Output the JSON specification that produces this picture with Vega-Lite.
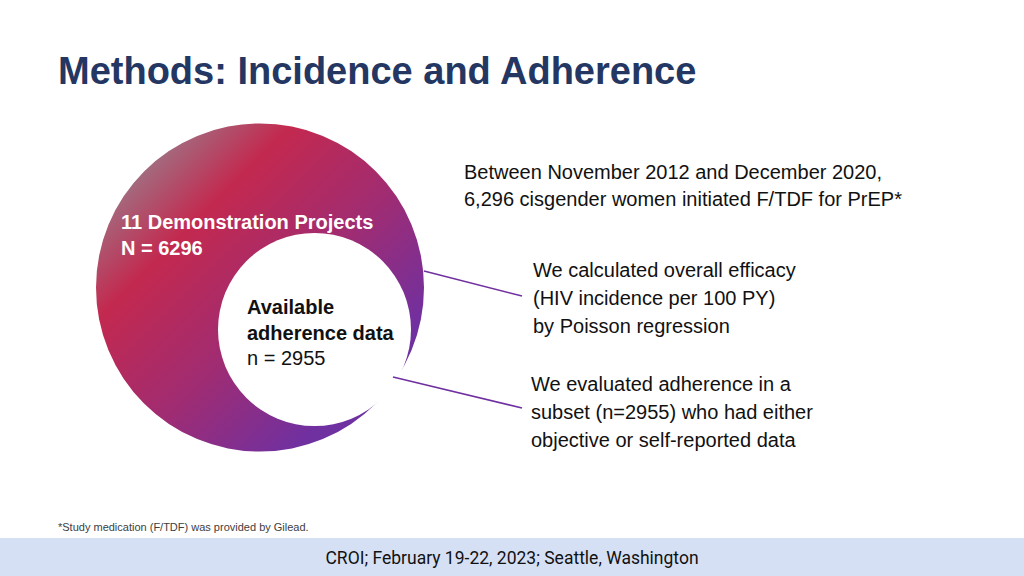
{
  "$schema": "https://vega.github.io/schema/vega-lite/v6.json",
  "width": 1024,
  "height": 576,
  "autosize": {"type": "fit", "contains": "padding"},
  "padding": 0,
  "background": "#ffffff",
  "config": {"view": {"stroke": null}},
  "datasets": {
    "band": [{"x": 0, "x2": 1024, "y": 538, "y2": 576}],
    "circles": [
      {"name": "outer", "x": 260, "y": 287.5},
      {"name": "inner", "x": 314.5, "y": 329.5}
    ],
    "links": [
      {"x": 424, "y": 271, "x2": 522, "y2": 296},
      {"x": 393, "y": 377, "x2": 522, "y2": 408}
    ],
    "texts": [
      {"kind": "title", "x": 58, "y": 84, "text": "Methods: Incidence and Adherence"},
      {"kind": "body", "x": 464, "y": 179, "text": "Between November 2012 and December 2020,"},
      {"kind": "body", "x": 464, "y": 206, "text": "6,296 cisgender women initiated F/TDF for PrEP*"},
      {"kind": "body", "x": 533, "y": 277, "text": "We calculated overall efficacy"},
      {"kind": "body", "x": 533, "y": 305, "text": "(HIV incidence per 100 PY)"},
      {"kind": "body", "x": 533, "y": 333, "text": "by Poisson regression"},
      {"kind": "body", "x": 531, "y": 391, "text": "We evaluated adherence in a"},
      {"kind": "body", "x": 531, "y": 419, "text": "subset (n=2955) who had either"},
      {"kind": "body", "x": 531, "y": 447, "text": "objective or self-reported data"},
      {"kind": "white", "x": 121, "y": 229, "text": "11 Demonstration Projects"},
      {"kind": "white", "x": 121, "y": 255, "text": "N = 6296"},
      {"kind": "bold", "x": 247, "y": 314, "text": "Available"},
      {"kind": "bold", "x": 247, "y": 340, "text": "adherence data"},
      {"kind": "body", "x": 247, "y": 365, "text": "n = 2955"},
      {"kind": "note", "x": 58, "y": 531, "text": "*Study medication (F/TDF) was provided by Gilead."},
      {"kind": "footer", "x": 512, "y": 564, "text": "CROI; February 19-22, 2023; Seattle, Washington"}
    ]
  },
  "encoding": {
    "x": {"field": "x", "type": "quantitative", "scale": {"domain": [0, 1024], "nice": false, "zero": false}, "axis": null},
    "y": {"field": "y", "type": "quantitative", "scale": {"domain": [0, 576], "nice": false, "zero": false, "reverse": true}, "axis": null}
  },
  "layer": [
    {
      "data": {"name": "band"},
      "mark": {"type": "rect", "color": "#d6e0f5"},
      "encoding": {"x2": {"field": "x2"}, "y2": {"field": "y2"}}
    },
    {
      "data": {"name": "circles"},
      "transform": [{"filter": "datum.name === 'outer'"}],
      "mark": {
        "type": "point", "shape": "circle", "filled": true, "opacity": 1, "strokeWidth": 0, "size": 107584,
        "color": {
          "gradient": "linear", "x1": 0, "y1": 0, "x2": 1, "y2": 1,
          "stops": [
            {"offset": 0.1, "color": "#9a7d8c"},
            {"offset": 0.3, "color": "#c3294f"},
            {"offset": 0.55, "color": "#a02c72"},
            {"offset": 0.8, "color": "#7030a0"},
            {"offset": 1, "color": "#6a30a5"}
          ]
        }
      }
    },
    {
      "data": {"name": "circles"},
      "transform": [{"filter": "datum.name === 'inner'"}],
      "mark": {"type": "point", "shape": "circle", "filled": true, "opacity": 1, "strokeWidth": 0, "size": 37249, "color": "#ffffff"}
    },
    {
      "data": {"name": "links"},
      "mark": {"type": "rule", "color": "#7030a0", "strokeWidth": 1.5},
      "encoding": {"x2": {"field": "x2"}, "y2": {"field": "y2"}}
    },
    {
      "data": {"name": "texts"},
      "transform": [{"filter": "datum.kind === 'title'"}],
      "mark": {"type": "text", "align": "left", "baseline": "alphabetic", "font": "Liberation Sans", "fontWeight": "bold", "fontSize": 38, "color": "#243763"},
      "encoding": {"text": {"field": "text"}}
    },
    {
      "data": {"name": "texts"},
      "transform": [{"filter": "datum.kind === 'body'"}],
      "mark": {"type": "text", "align": "left", "baseline": "alphabetic", "font": "Liberation Sans", "fontSize": 20, "color": "#111111"},
      "encoding": {"text": {"field": "text"}}
    },
    {
      "data": {"name": "texts"},
      "transform": [{"filter": "datum.kind === 'white'"}],
      "mark": {"type": "text", "align": "left", "baseline": "alphabetic", "font": "Liberation Sans", "fontWeight": "bold", "fontSize": 20, "color": "#ffffff"},
      "encoding": {"text": {"field": "text"}}
    },
    {
      "data": {"name": "texts"},
      "transform": [{"filter": "datum.kind === 'bold'"}],
      "mark": {"type": "text", "align": "left", "baseline": "alphabetic", "font": "Liberation Sans", "fontWeight": "bold", "fontSize": 20, "color": "#111111"},
      "encoding": {"text": {"field": "text"}}
    },
    {
      "data": {"name": "texts"},
      "transform": [{"filter": "datum.kind === 'note'"}],
      "mark": {"type": "text", "align": "left", "baseline": "alphabetic", "font": "Liberation Sans", "fontSize": 11, "color": "#404040"},
      "encoding": {"text": {"field": "text"}}
    },
    {
      "data": {"name": "texts"},
      "transform": [{"filter": "datum.kind === 'footer'"}],
      "mark": {"type": "text", "align": "center", "baseline": "alphabetic", "font": "Roboto", "fontSize": 17.5, "color": "#111111"},
      "encoding": {"text": {"field": "text"}}
    }
  ]
}
